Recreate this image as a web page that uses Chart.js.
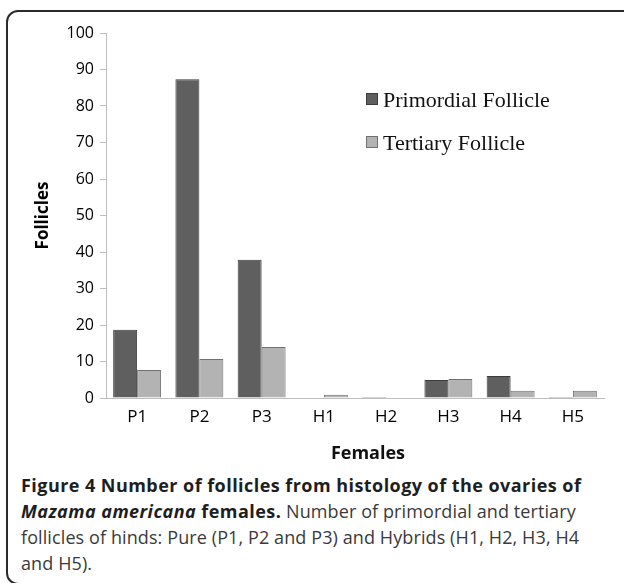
<!DOCTYPE html>
<html>
<head>
<meta charset="utf-8">
<script src="https://cdn.jsdelivr.net/npm/chart.js@4.4.1/dist/chart.umd.min.js"></script>
<style>
  body { margin: 0; background: #fff; width: 624px; height: 583px; overflow: hidden; position: relative; }
  .frame {
    position: absolute; left: 6px; top: 10px; width: 630px; height: 571px;
    border: 2px solid #2b2b2b; border-radius: 12px;
  }
  #chart { position: absolute; left: 0; top: 0; }
  .caption {
    position: absolute; left: 21px; top: 472px; width: 603px;
    font-family: "Open Sans", sans-serif; font-size: 18px; line-height: 26px;
    color: #3a3a3a; white-space: nowrap; letter-spacing: 0.1px;
  }
  .caption b { color: #1e1e1e; letter-spacing: 0.45px; }
</style>
</head>
<body>
<div class="frame"></div>
<canvas id="chart" width="624" height="470"></canvas>
<div class="caption">
  <b>Figure 4 Number of follicles from histology of the ovaries of</b><br>
  <b><i>Mazama americana</i> females.</b> Number of primordial and tertiary<br>
  follicles of hinds: Pure (P1, P2 and P3) and Hybrids (H1, H2, H3, H4<br>
  and H5).
</div>
<script>
const females = ['P1', 'P2', 'P3', 'H1', 'H2', 'H3', 'H4', 'H5'];
const primordial = [18.7, 87.3, 37.9, 0, 0.3, 4.9, 6.0, 0.3];
const tertiary = [7.7, 10.7, 14.0, 0.9, 0, 5.2, 2.0, 2.0];
const yTicks = [0, 10, 20, 30, 40, 50, 60, 70, 80, 90, 100];

const axisColor = '#bdbdbd';

// legend squares + x title drawn in place, like the original figure
const extras = {
  id: 'extras',
  afterDraw(chart) {
    const { ctx, chartArea } = chart;
    ctx.save();
    chart.data.datasets.forEach((ds, i) => {
      const x = chartArea.left + 260;
      const y = 93 + i * 43;
      ctx.fillStyle = ds.backgroundColor;
      ctx.fillRect(x, y, 12, 12);
      ctx.strokeStyle = ds.borderColor;
      ctx.lineWidth = 1;
      ctx.strokeRect(x + 0.5, y + 0.5, 11, 11);
      ctx.fillStyle = '#111';
      ctx.font = '22px "Liberation Serif", "Times New Roman", serif';
      ctx.textBaseline = 'alphabetic';
      ctx.fillText(ds.label, x + 17, y + 14);
    });
    ctx.font = 'bold 18px "Open Sans"';
    ctx.textAlign = 'center';
    ctx.textBaseline = 'middle';
    ctx.fillStyle = '#111';
    ctx.fillText('Females', chartArea.left + 262, 454);
    ctx.restore();
  }
};

new Chart(document.getElementById('chart'), {
  type: 'bar',
  data: {
    labels: females,
    datasets: [
      {
        label: 'Primordial Follicle',
        data: primordial,
        backgroundColor: '#5f5f5f',
        borderColor: '#3c3c3c',
        borderWidth: 1,
      },
      {
        label: 'Tertiary Follicle',
        data: tertiary,
        backgroundColor: '#b3b3b3',
        borderColor: '#6f6f6f',
        borderWidth: 1,
      },
    ],
  },
  options: {
    responsive: false,
    animation: false,
    categoryPercentage: 0.77,
    barPercentage: 1.0,
    layout: { padding: { left: 0, right: 20, top: 33, bottom: 0 } },
    plugins: { legend: { display: false }, tooltip: { enabled: false } },
    scales: {
      x: {
        grid: { drawOnChartArea: false, drawTicks: false, color: axisColor },
        border: { color: axisColor },
        ticks: { font: { family: 'Open Sans', size: 17 }, color: '#000', padding: 9 },
        afterFit(s) { s.height = 72; },
      },
      y: {
        min: 0,
        max: 100,
        afterBuildTicks(s) { s.ticks = yTicks.map(v => ({ value: v })); },
        grid: { drawOnChartArea: false, tickLength: 6, color: axisColor },
        border: { color: axisColor },
        ticks: { font: { family: 'Open Sans', size: 16 }, color: '#000', padding: 6 },
        title: {
          display: true,
          text: 'Follicles',
          color: '#000',
          font: { family: 'Open Sans', size: 17, weight: 'bold' },
          padding: { top: 33, bottom: 0 },
        },
        afterFit(s) { s.width = 106; },
      },
    },
  },
  plugins: [extras],
});
</script>
</body>
</html>
